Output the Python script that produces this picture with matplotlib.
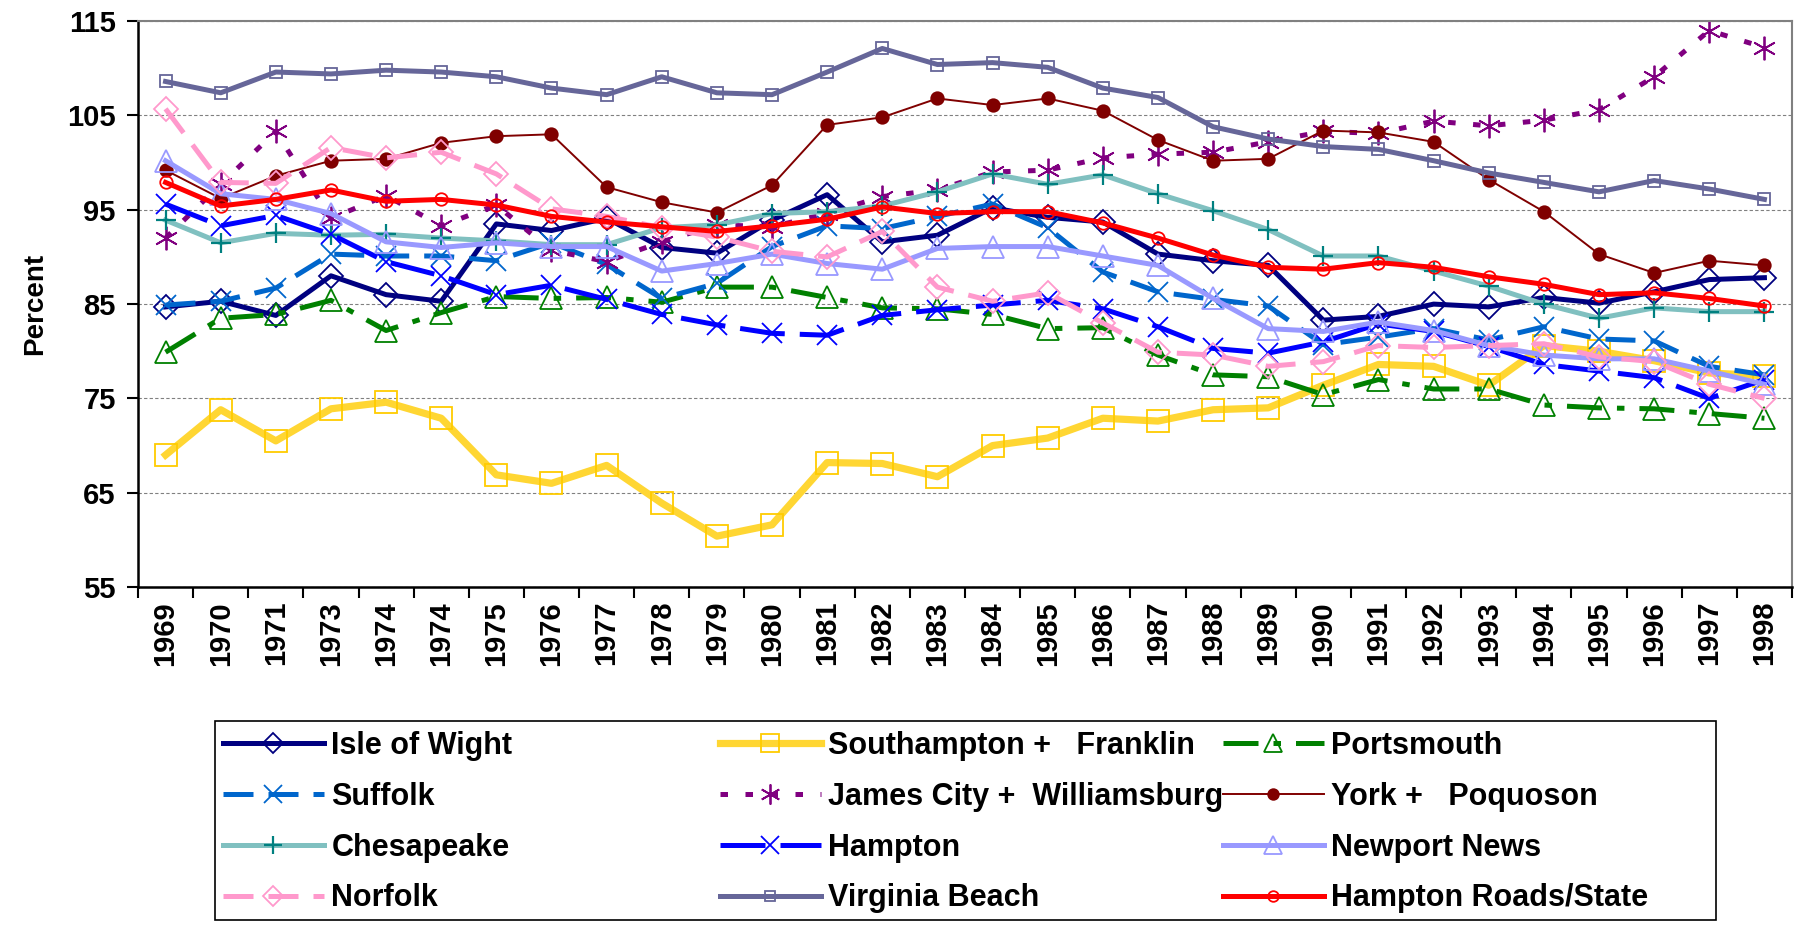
import numpy as np
import matplotlib
matplotlib.use("Agg")
import matplotlib.pyplot as plt
from matplotlib.patches import Rectangle

plt.rcParams['font.family'] = ['Liberation Sans', 'DejaVu Sans']

years = ['1969', '1970', '1971', '1973', '1974', '1974', '1975', '1976', '1977', '1978',
         '1979', '1980', '1981', '1982', '1983', '1984', '1985', '1986', '1987', '1988',
         '1989', '1990', '1991', '1992', '1993', '1994', '1995', '1996', '1997', '1998']

isle_of_wight = [84.7, 85.3, 83.8, 88.0, 86.0, 85.3, 93.5, 92.8, 94.1, 91.0, 90.4, 93.9, 96.6, 91.6, 92.3, 95.2, 94.2, 93.7, 90.3, 89.6, 89.1, 83.3, 83.7, 85.0, 84.7, 85.7, 85.1, 86.3, 87.6, 87.8]
southampton = [69.0, 73.8, 70.5, 73.9, 74.6, 72.9, 66.9, 66.0, 67.9, 63.9, 60.4, 61.6, 68.2, 68.1, 66.7, 70.0, 70.8, 72.9, 72.6, 73.8, 74.0, 76.4, 78.6, 78.4, 76.4, 80.6, 80.0, 79.0, 77.7, 77.4]
portsmouth = [79.9, 83.5, 83.9, 85.4, 82.2, 84.1, 85.8, 85.6, 85.7, 85.2, 86.8, 86.8, 85.7, 84.6, 84.5, 83.9, 82.4, 82.5, 79.6, 77.5, 77.3, 75.4, 77.0, 76.0, 76.0, 74.3, 74.0, 73.9, 73.4, 72.9]
suffolk = [84.9, 85.3, 86.7, 90.3, 90.1, 90.1, 89.6, 91.5, 89.2, 85.6, 87.2, 91.1, 93.3, 93.0, 94.3, 95.6, 93.1, 88.4, 86.3, 85.5, 84.8, 80.7, 81.5, 82.4, 81.2, 82.6, 81.3, 81.1, 78.4, 77.5]
james_city = [92.0, 97.7, 103.3, 94.1, 96.5, 93.3, 95.5, 90.7, 89.5, 91.6, 93.4, 93.2, 94.6, 96.4, 97.1, 99.0, 99.2, 100.5, 100.9, 101.1, 102.2, 103.3, 103.1, 104.4, 103.9, 104.5, 105.6, 109.1, 114.0, 112.2]
york = [99.2, 96.2, 98.6, 100.2, 100.4, 102.1, 102.8, 103.0, 97.4, 95.8, 94.7, 97.6, 104.0, 104.8, 106.8, 106.1, 106.8, 105.5, 102.4, 100.2, 100.4, 103.4, 103.2, 102.2, 98.2, 94.8, 90.3, 88.3, 89.6, 89.1]
chesapeake = [93.9, 91.5, 92.5, 92.3, 92.4, 92.0, 91.7, 91.3, 91.3, 93.1, 93.4, 94.6, 94.8, 95.4, 96.9, 98.8, 97.7, 98.7, 96.7, 94.9, 92.9, 90.1, 90.1, 88.5, 86.9, 85.0, 83.5, 84.6, 84.2, 84.2]
hampton = [95.6, 93.3, 94.4, 92.4, 89.5, 88.0, 86.0, 87.0, 85.5, 83.9, 82.8, 81.9, 81.7, 83.8, 84.4, 84.9, 85.4, 84.5, 82.6, 80.3, 79.8, 81.0, 82.9, 82.1, 80.5, 78.6, 77.9, 77.2, 75.0, 77.0]
newport_news = [100.2, 96.7, 96.1, 94.6, 91.6, 91.0, 91.5, 91.1, 91.1, 88.5, 89.3, 90.3, 89.3, 88.7, 90.9, 91.1, 91.1, 90.1, 89.1, 85.6, 82.4, 82.1, 83.1, 82.2, 80.6, 79.6, 79.2, 79.2, 77.9, 76.5]
norfolk = [105.7, 97.9, 97.8, 101.6, 100.5, 101.1, 98.8, 95.1, 94.3, 93.1, 92.1, 90.6, 90.0, 92.7, 86.8, 85.3, 86.2, 83.0, 79.9, 79.6, 78.4, 78.9, 80.6, 80.4, 80.6, 80.8, 79.4, 78.9, 76.5, 75.0]
virginia_beach = [108.6, 107.4, 109.6, 109.4, 109.8, 109.6, 109.1, 107.9, 107.2, 109.1, 107.4, 107.2, 109.6, 112.1, 110.4, 110.6, 110.1, 107.9, 106.9, 103.8, 102.5, 101.7, 101.4, 100.2, 98.9, 97.9, 96.9, 98.1, 97.2, 96.1]
hr_state = [97.9, 95.4, 96.1, 97.1, 95.9, 96.1, 95.5, 94.3, 93.7, 93.2, 92.7, 93.3, 94.0, 95.3, 94.6, 94.8, 94.8, 93.6, 92.0, 90.2, 88.9, 88.7, 89.4, 88.9, 87.9, 87.1, 86.0, 86.2, 85.6, 84.8]

x = np.arange(len(years))

fig = plt.figure(figsize=(17.99, 9.26), dpi=100)
ax = fig.add_axes([0.0767, 0.366, 0.9194, 0.6112])

lw = 3.6
lines = {}

def draw(name, vals, color, ls='-', width=lw, marker='o', ms=12, mec=None, mfc='none', mew=1.3):
    ln, = ax.plot(x, vals, color=color, ls=ls, lw=width, marker=marker, ms=ms,
                  mec=mec or color, mfc=mfc, mew=mew, label=name)
    lines[name] = ln

draw('Isle of Wight', isle_of_wight, '#000080', marker='D', ms=12)
draw('Southampton +   Franklin', southampton, '#FFD633', width=5.2, marker='s', ms=16, mec='#FFCC00')
draw('Portsmouth', portsmouth, '#008000', ls=(0, (7, 3, 1.5, 3)), marker='^', ms=16)
draw('Suffolk', suffolk, '#0066CC', ls=(0, (6, 3)), marker='x', ms=15)
draw('James City +  Williamsburg', james_city, '#800080', ls=(0, (1.5, 3.5)), marker=(6, 2, 0), ms=17)
draw('York +   Poquoson', york, '#800000', width=1.4, marker='o', ms=9, mfc='#800000')
draw('Chesapeake', chesapeake, '#80C0C0', marker='+', ms=15, mec='#008080', mew=1.6)
draw('Hampton', hampton, '#0000FF', ls=(0, (9, 3)), marker='x', ms=15)
draw('Newport News', newport_news, '#9999FF', marker='^', ms=16)
draw('Norfolk', norfolk, '#FF99CC', ls=(0, (6, 3)), marker='D', ms=12)
draw('Virginia Beach', virginia_beach, '#666699', marker='s', ms=9)
draw('Hampton Roads/State', hr_state, '#FF0000', marker='o', ms=9)

ax.set_xlim(-0.5, len(years) - 0.5)
ax.set_ylim(55, 115)
ax.set_yticks(range(55, 116, 10))
ax.set_yticklabels([str(v) for v in range(55, 116, 10)], fontsize=21, fontweight='bold')
ax.set_xticks(x)
ax.set_xticklabels(years, rotation=90, fontsize=21, fontweight='bold')
ax.set_xticks(np.arange(-0.5, len(years), 1), minor=True)
ax.tick_params(axis='x', which='major', length=0, pad=10)
ax.tick_params(axis='x', which='minor', length=8, width=1.5, direction='out')
ax.tick_params(axis='y', length=8, width=1.5, direction='out', pad=8)
ax.yaxis.grid(True, color='#808080', ls=(0, (3, 2)), lw=0.8)
ax.set_axisbelow(True)

for s in ['left', 'bottom']:
    ax.spines[s].set_color('black')
    ax.spines[s].set_linewidth(1.8)
for s in ['top', 'right']:
    ax.spines[s].set_color('#808080')
    ax.spines[s].set_linewidth(1.5)

ax.set_ylabel('Percent', fontsize=20, fontweight='bold', labelpad=14)

# legend: three fixed-width columns inside one frame
cols = [['Isle of Wight', 'Suffolk', 'Chesapeake', 'Norfolk'],
        ['Southampton +   Franklin', 'James City +  Williamsburg', 'Hampton', 'Virginia Beach'],
        ['Portsmouth', 'York +   Poquoson', 'Newport News', 'Hampton Roads/State']]
col_x = [223 / 1799, 720 / 1799, 1223 / 1799]
for cx, names in zip(col_x, cols):
    leg = fig.legend([lines[n] for n in names], names, loc='upper left',
                     bbox_to_anchor=(cx, 1 - 731 / 926), frameon=False,
                     prop={'weight': 'bold', 'size': 22}, handlelength=3.3,
                     handletextpad=0.25, labelspacing=0.68, borderpad=0,
                     borderaxespad=0, numpoints=1, markerscale=0.85)

fig.add_artist(Rectangle((215 / 1799, 1 - 920 / 926), (1716 - 215) / 1799, (920 - 721) / 926,
                         transform=fig.transFigure, fill=False, edgecolor='black', lw=1.2))

fig.savefig('out.png', dpi=100)
